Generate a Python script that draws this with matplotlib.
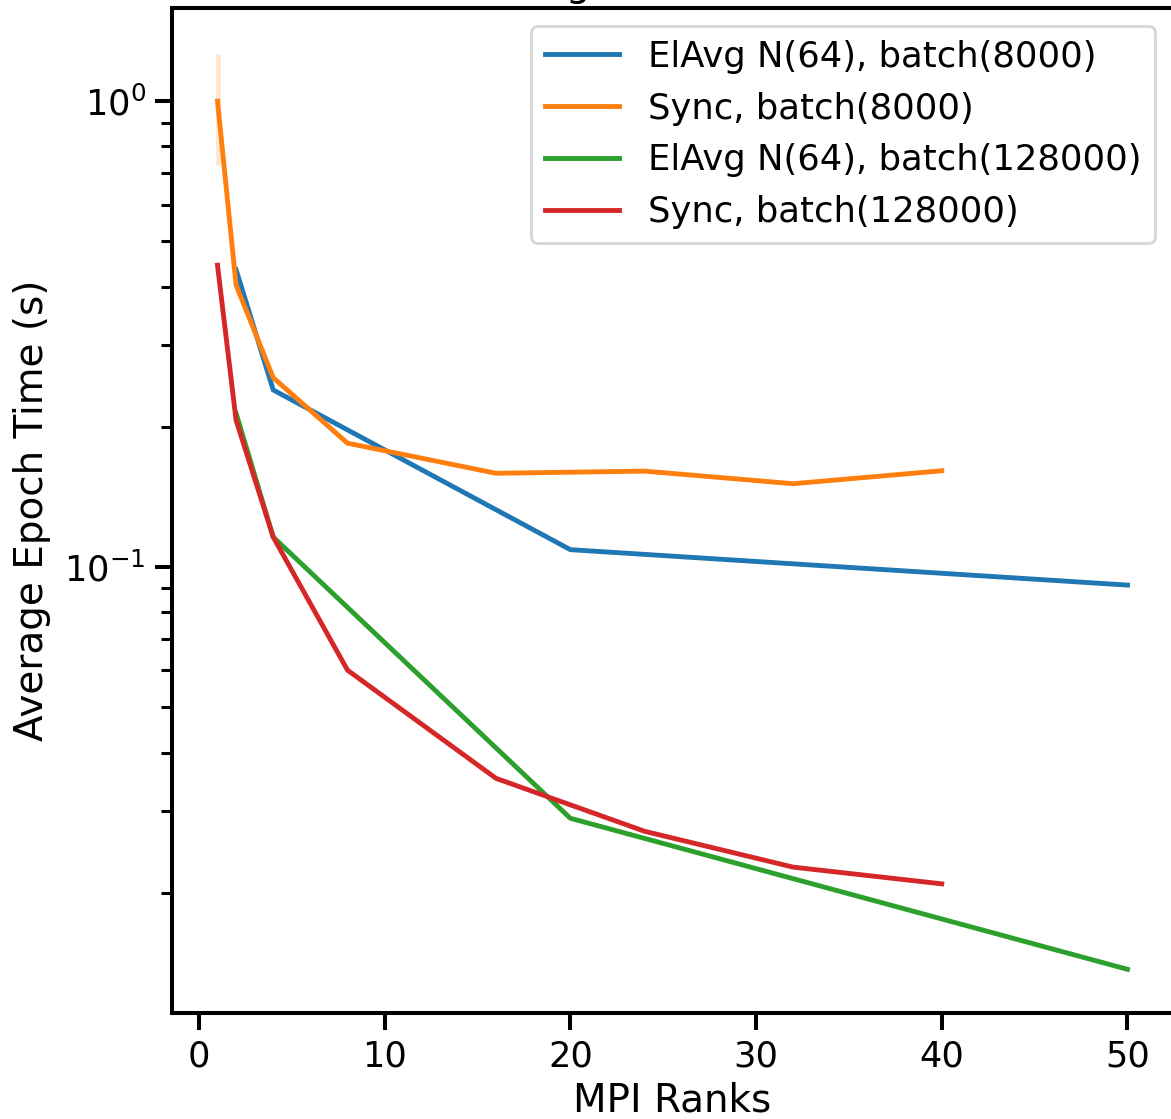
import numpy as np
import matplotlib
matplotlib.use('Agg')
import matplotlib.pyplot as plt

# MPI ranks and average epoch times (s)
ranks_elavg_8k = [2, 4, 20, 50]
elavg_8k = [0.435, 0.240, 0.109, 0.0915]

ranks_sync_8k = [1, 2, 4, 8, 16, 24, 32, 40]
sync_8k = [1.0, 0.403, 0.255, 0.1845, 0.159, 0.1607, 0.151, 0.161]
# spread of the first sync point
sync_8k_low = [0.73]
sync_8k_high = [1.26]

ranks_elavg_128k = [2, 4, 20, 50]
elavg_128k = [0.214, 0.116, 0.0289, 0.0137]

ranks_sync_128k = [1, 2, 4, 8, 16, 24, 32, 40]
sync_128k = [0.4446, 0.2067, 0.116, 0.0601, 0.0352, 0.0271, 0.0227, 0.0209]

labels = ['ElAvg N(64), batch(8000)', 'Sync, batch(8000)',
          'ElAvg N(64), batch(128000)', 'Sync, batch(128000)']

fs_tick = 25.3
fs_leg = 25.5
fs_lab = 28
plt.rcParams['font.family'] = ['DejaVu Sans']

fig = plt.figure(figsize=(11.71, 11.19), dpi=100)
ax = fig.add_axes([172 / 1171, 1 - 1013 / 1119, 1001 / 1171, 1005 / 1119])

lw = 3.5
ax.plot(ranks_elavg_8k, elavg_8k, color='#1f77b4', lw=lw, label=labels[0])
ax.plot(ranks_sync_8k, sync_8k, color='#ff7f0e', lw=lw, label=labels[1])
ax.vlines(ranks_sync_8k[:1], sync_8k_low, sync_8k_high, color='#ff7f0e', alpha=0.18, lw=lw)
ax.plot(ranks_elavg_128k, elavg_128k, color='#2ca02c', lw=lw, label=labels[2])
ax.plot(ranks_sync_128k, sync_128k, color='#d62728', lw=lw, label=labels[3])

ax.set_yscale('log')
ax.set_xlim(-1.45, 52.45)
ax.set_ylim(0.01104, 1.585)
ax.set_xticks([0, 10, 20, 30, 40, 50])

for s in ax.spines.values():
    s.set_linewidth(2.9)
ax.tick_params(which='major', length=12, width=2.9, labelsize=fs_tick, pad=7)
ax.tick_params(which='minor', length=8, width=2.2)

ax.set_xlabel('MPI Ranks', fontsize=fs_lab, labelpad=6)
ax.set_ylabel('Average Epoch Time (s)', fontsize=fs_lab, labelpad=10)
# title sits mostly above the visible area, as in the reference crop
ax.set_title('Scaling with MPI Ranks', fontsize=fs_lab, pad=8.5)

leg = ax.legend(loc='upper right', fontsize=fs_leg, frameon=True, handlelength=2.1,
                borderaxespad=0.5)
leg.get_frame().set_linewidth(2.0)
for h in leg.get_lines():
    h.set_linewidth(lw)

fig.savefig('out.png', dpi=100)
